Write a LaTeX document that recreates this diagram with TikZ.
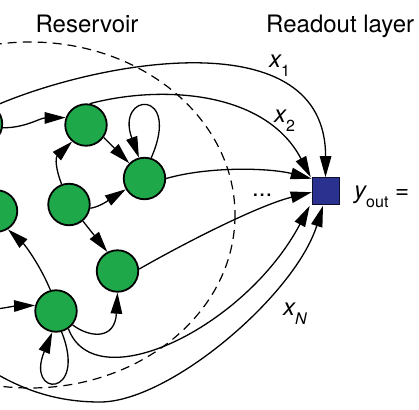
\documentclass[tikz,border=0pt]{standalone}
\usepackage{fontspec}
\setmainfont{TeX Gyre Heros}
\usetikzlibrary{arrows.meta}
\definecolor{resgreen}{RGB}{30,168,74}
\definecolor{outblue}{RGB}{43,49,143}
\newcommand\sbs[1]{\raisebox{-9pt}{\fontsize{16}{18}\selectfont #1}}
\tikzset{
  res/.style={circle, draw=black, line width=1.8pt, fill=resgreen, minimum size=41.5pt, inner sep=0pt},
  outsq/.style={rectangle, draw=black!70!outblue, line width=0.6pt, fill=outblue, minimum size=27pt, inner sep=0pt},
  conn/.style={line width=1.3pt},
  arr/.style={line width=1.3pt, -{Triangle[length=21pt,width=11.5pt]}},
  resborder/.style={line width=1.2pt, dash pattern=on 9pt off 6pt},
  lbl/.style={inner sep=0pt, font=\fontsize{24}{28}\selectfont},
}
\begin{document}
\begin{tikzpicture}[x=1pt, y=-1pt]
\useasboundingbox (0,0) rectangle (419,409);
\clip (0,0) rectangle (419,409);

% reservoir boundary
\draw[resborder] (30,215) ellipse [x radius=205, y radius=173];

% nodes
\node[res] (L1) at (-18.5,124) {};
\node[res] (A) at (86,125) {};
\node[res] (B) at (144.5,178.5) {};
\node[res] (C) at (69,204.5) {};
\node[res] (D) at (-3.5,211) {};
\node[res] (E) at (117.5,271) {};
\node[res] (F) at (56,311) {};
\node[outsq] (S) at (325.5,191) {};
\coordinate (in1) at (-25,360);
\coordinate (in2) at (-30,312);

% labels
\node[lbl, anchor=base] (tres) at (87,33) {Reservoir};
\node[lbl, anchor=base west] (tread) at (266,33) {Readout layer};
\node[lbl, anchor=base west] (lx1) at (269,68) {\itshape x\sbs{\upshape 1}};
\node[lbl, anchor=base west] (lx2) at (274,122) {\itshape x\sbs{\upshape 2}};
\node[lbl, anchor=base west] (lxn) at (283,315) {\itshape x\sbs{N}};
\node[lbl, anchor=base west] (ldots) at (252,196) {...};
\node[lbl, anchor=base west] (lyout) at (354,198) {\itshape y\sbs{\upshape out}\upshape\ =};

% internal connections
\draw[arr] (L1.-10) .. controls (25,128) and (40,118) .. (A.160);
\draw[arr] (A.-35) -- (B.135);
\draw[arr] (C.110) .. controls (56,170) and (55,158) .. (A.-130);
\draw[arr] (C.-10) .. controls (100,207) and (112,198) .. (B.-150);
\draw[arr] (C.-50) -- (E.118);
\draw[arr] (B.72) .. controls (182,88) and (115,92) .. (B.105);
\draw[arr] (F.105) .. controls (40,265) and (25,245) .. (D.-58);
\draw[arr] (F.-40) .. controls (90,338) and (115,340) .. (E.south);
\draw[arr] (F.-75) .. controls (88,398) and (25,398) .. (F.-100);
\draw[arr] (in2) .. controls (-5,310) and (15,306) .. (F.165);

% readout connections
\draw[arr] (L1.55) .. controls (100,60) and (326,20) .. (S.north);
\draw[arr] (A.80) .. controls (160,85) and (265,90) .. ([xshift=-1pt]S.north west);
\draw[arr] (B.east) .. controls (210,166) and (270,168) .. ([yshift=-1.5pt]S.north west);
\draw[arr] (E.5) .. controls (190,240) and (260,205) .. ([yshift=-15pt]S.north west);
\draw[arr] (F.-55) .. controls (95,400) and (245,328) .. ([xshift=-2pt,yshift=-1pt]S.south west);
\draw[arr] (in1) .. controls (20,392) and (60,402) .. (100,402) .. controls (170,402) and (295,295) .. ([xshift=-2.5pt,yshift=-1pt]S.south);
\end{tikzpicture}
\end{document}
